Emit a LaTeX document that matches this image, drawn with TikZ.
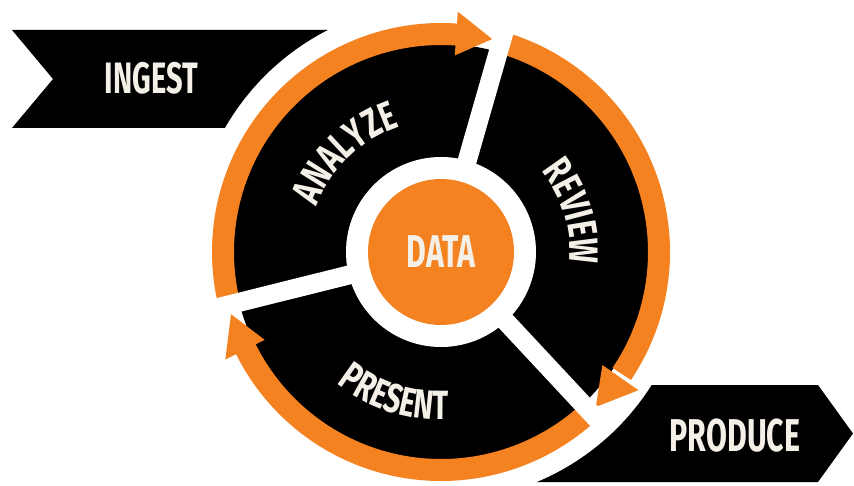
\documentclass[tikz,border=0pt]{standalone}
\usepackage{fontspec}
\usetikzlibrary{decorations.text}
\newfontfamily\cond[FakeStretch=0.66]{Fira Sans}
\newfontfamily\condw[FakeStretch=0.72]{Fira Sans}
\definecolor{ringorange}{RGB}{245,130,32}
\definecolor{cream}{RGB}{244,240,232}
\newcommand\arcfont{\condw\bfseries\fontsize{41}{42}\selectfont}
\newcommand\bigfont{\cond\bfseries\fontsize{46}{48}\selectfont}
\newcommand\ribfont{\cond\bfseries\fontsize{44}{46}\selectfont}
\tikzset{
  ribbon/.style={fill=black},
  ringarc/.style={draw=ringorange, line width=22pt},
  arrowtip/.style={fill=ringorange},
  sep/.style={draw=white, line width=19pt},
  ribtext/.style={text=cream, font=\ribfont, inner sep=0pt},
  curvtext/.style={decorate, decoration={text along path, text={|\arcfont|#1}, text align=center, text color=cream}}
}
\begin{document}
\begin{tikzpicture}[x=1pt,y=1pt]
\useasboundingbox (0,0) rectangle (854,485);
\coordinate (C) at (441,233);
% ribbons
\fill[ribbon] (12,455) -- (420,455) -- (420,357) -- (12,357) -- (53,406) -- cycle;
\fill[ribbon] (500,100) -- (818,100) -- (853,51.5) -- (818,3) -- (500,3) -- cycle;
% white gap and black disk
\fill[white] (C) circle[radius=249pt];
\fill[black] (C) circle[radius=208pt];
% orange arcs with heads
\draw[ringarc] ([shift={(C)}]194:218pt) arc[start angle=194, end angle=85, radius=218pt];
\fill[arrowtip] ([shift={(C)}]86:197pt) -- ([shift={(C)}]86:241pt) -- ([shift={(C)}]76.5:219pt) -- cycle;
\draw[ringarc] ([shift={(C)}]74:218pt) arc[start angle=74, end angle=-34, radius=218pt];
\fill[arrowtip] ([shift={(C)}]-35:197pt) -- ([shift={(C)}]-35:241pt) -- ([shift={(C)}]-45:219pt) -- cycle;
\draw[ringarc] ([shift={(C)}]313:218pt) arc[start angle=313, end angle=205.5, radius=218pt];
\fill[arrowtip] ([shift={(C)}]206.5:197pt) -- ([shift={(C)}]206.5:241pt) -- ([shift={(C)}]196.5:219pt) -- cycle;
% curved labels
\path[curvtext=ANALYZE] ([shift={(C)}]174:132pt) arc[start angle=174, end angle=94, radius=132pt];
\path[curvtext=REVIEW] ([shift={(C)}]57:129pt) arc[start angle=57, end angle=-23, radius=129pt];
\path[curvtext=PRESENT] ([shift={(C)}]212:168pt) arc[start angle=212, end angle=292, radius=168pt];
% separators
\draw[sep] ([shift={(C)}]74:80pt) -- ([shift={(C)}]74:245pt);
\draw[sep] ([shift={(C)}]194:80pt) -- ([shift={(C)}]194:245pt);
\draw[sep] ([shift={(C)}]313:80pt) -- ([shift={(C)}]313:245pt);
% centre
\fill[white] (C) circle[radius=95pt];
\node[circle, fill=ringorange, minimum size=146pt, inner sep=0pt, text=cream, font=\bigfont] (data) at (C) {DATA};
% ribbon texts
\node[ribtext] (ingest) at (151.5,407) {INGEST};
\node[ribtext, font=\bigfont] (produce) at (735,49) {PRODUCE};
\end{tikzpicture}
\end{document}
